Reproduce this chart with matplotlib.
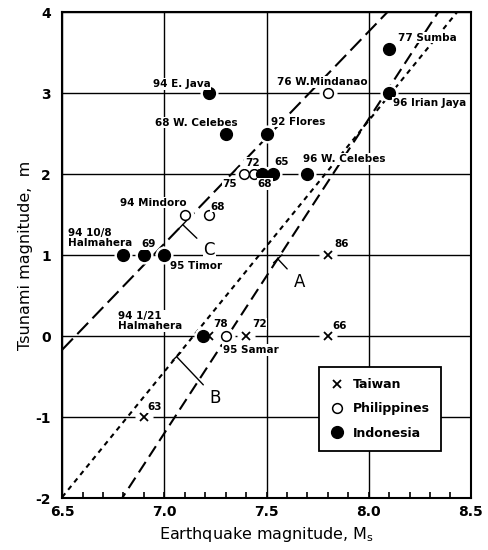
import numpy as np
import matplotlib.pyplot as plt

# Taiwan events (Ms, m, label)
tw_ms = [7.22, 7.4, 7.8, 7.8, 6.9]
tw_m = [0, 0, 0, 1, -1]
tw_lbl = ["78", "72", "66", "86", "63"]

# Philippines events
ph_ms = [7.8, 7.1, 7.22, 7.39, 7.44, 7.3]
ph_m = [3, 1.5, 1.5, 2, 2, 0]
ph_lbl = ["76 W.Mindanao", "94 Mindoro", "68", "72", "75", "95 Samar"]

# Indonesia events
id_ms = [8.1, 8.1, 7.22, 7.3, 7.5, 7.7, 7.48, 7.53, 6.8, 6.9, 7.0, 7.19]
id_m = [3.55, 3.0, 3.0, 2.5, 2.5, 2.0, 2.0, 2.0, 1.0, 1.0, 1.0, 0.0]
id_lbl = ["77 Sumba", "96 Irian Jaya", "94 E. Java", "68 W. Celebes", "92 Flores",
          "96 W. Celebes", "68", "65", "94 10/8\nHalmahera", "69", "95 Timor",
          "94 1/21\nHalmahera"]

# relation lines m = a*Ms + b
line_names = ["A", "B", "C"]
line_slope = [3.88, 3.10, 2.62]
line_icpt = [-28.36, -22.14, -17.20]

xticks = [6.5, 7.0, 7.5, 8.0, 8.5]
xtick_lbl = ["6.5", "7.0", "7.5", "8.0", "8.5"]
yticks = [-2, -1, 0, 1, 2, 3, 4]

# label offsets in pixels (dx, dy, ha)
tw_off = [(4, 12, 'left'), (6, 12, 'left'), (5, 10, 'left'), (7, 11, 'left'), (4, 10, 'left')]
ph_off = [(-6, 11, 'center'), (2, 12, 'right'), (1, 8, 'left'), (1, 11, 'left'),
          (-17, -10, 'right'), (-3, -14, 'left')]
id_off = [(9, 11, 'left'), (4, -10, 'left'), (1, 9, 'right'), (-29, 11, 'center'),
          (4, 12, 'left'), (-4, 15, 'left'), (-5, -10, 'left'), (2, 12, 'left'),
          (-55, 17, 'left'), (-2, 11, 'left'), (6, -11, 'left'), (-85, 15, 'left')]

fig = plt.figure(figsize=(4.89, 5.5), dpi=100)
ax = fig.add_axes([0.127, 0.0945, 0.836, 0.8835])

ax.set_xlim(6.5, 8.5)
ax.set_ylim(-2, 4)
ax.set_xticks(xticks)
ax.set_xticklabels(xtick_lbl, fontweight='bold')
ax.set_xticks(np.arange(6.6, 8.45, 0.1), minor=True)
ax.set_yticks(yticks)
ax.set_yticklabels([str(v) for v in yticks], fontweight='bold')
ax.grid(True, which='major', color='black', lw=1.0)
ax.tick_params(axis='x', which='both', direction='in', length=4, width=1.2,
               labelsize=10, pad=5)
ax.tick_params(axis='y', which='both', length=0, labelsize=10, pad=8)
for s in ax.spines.values():
    s.set_linewidth(1.5)

# lines
dash = {"A": (6, 3), "B": (2.4, 2.2), "C": (7.5, 3)}
xx = np.linspace(6.5, 8.5, 200)
for n, a, b in zip(line_names, line_slope, line_icpt):
    ln, = ax.plot(xx, a * xx + b, color='black', lw=1.5, zorder=2)
    ln.set_dashes(dash[n])

# points with white halo
def pts(xs, ys, **kw):
    ax.plot(xs, ys, ls='none', marker='o', ms=12, mfc='white', mec='white', zorder=3)
    return ax.plot(xs, ys, ls='none', zorder=4, **kw)[0]

h_tw = pts(tw_ms, tw_m, marker='x', ms=6, mew=1.3, color='black', label='Taiwan')
h_ph = pts(ph_ms, ph_m, marker='o', ms=7, mfc='white', mec='black', mew=1.1,
           label='Philippines')
h_id = pts(id_ms, id_m, marker='o', ms=8.5, color='black', label='Indonesia')

box = dict(facecolor='white', edgecolor='none', pad=0.5)
for xs, ys, lbs, offs in [(tw_ms, tw_m, tw_lbl, tw_off), (ph_ms, ph_m, ph_lbl, ph_off),
                          (id_ms, id_m, id_lbl, id_off)]:
    for x, y, t, (dx, dy, ha) in zip(xs, ys, lbs, offs):
        ax.annotate(t, (x, y), xytext=(dx, dy), textcoords='offset pixels',
                    ha=ha, va='center', fontsize=7.5, fontweight='bold',
                    linespacing=1.0, bbox=box, zorder=5)

# line labels with leaders
lead_x = {"A": 7.555, "B": 7.06, "C": 7.09}
lab_pos = {"A": (7.66, 0.67), "B": (7.25, -0.76), "C": (7.22, 1.06)}
for n, a, b in zip(line_names, line_slope, line_icpt):
    tx = lead_x[n]
    ax.annotate(n, (tx, a * tx + b), xytext=lab_pos[n], textcoords='data',
                ha='center', va='center', fontsize=12, bbox=box, zorder=5,
                arrowprops=dict(arrowstyle='-[, widthB=0.35, lengthB=0', lw=1.0,
                                color='black', shrinkA=6, shrinkB=0))

leg = ax.legend(handles=[h_tw, h_ph, h_id], loc='lower left',
                bbox_to_anchor=(0.614, 0.084), fancybox=False, edgecolor='black',
                framealpha=1, fontsize=9, handlelength=1.0, handletextpad=0.8,
                labelspacing=0.9, borderpad=0.9)
leg.get_frame().set_linewidth(1.3)
for t in leg.get_texts():
    t.set_fontweight('bold')

ax.set_xlabel("Earthquake magnitude, M$_\\mathregular{s}$", fontsize=11.5, labelpad=4)
ax.set_ylabel("Tsunami magnitude,  m", fontsize=11.5, labelpad=2)

fig.savefig("out.png", dpi=100)
